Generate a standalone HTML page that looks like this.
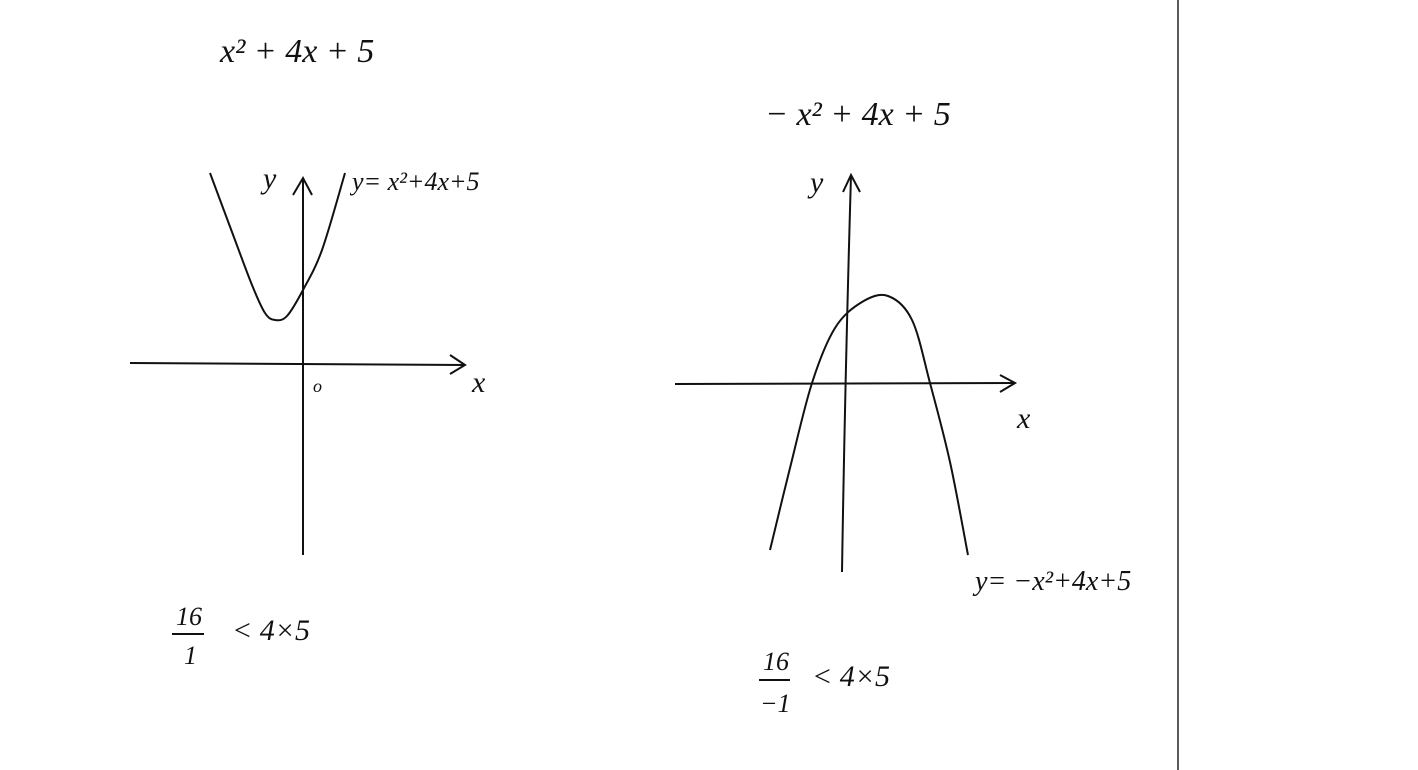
<!DOCTYPE html>
<html><head><meta charset="utf-8"><style>
html,body{margin:0;padding:0;background:#fff;}
svg{display:block;}
text{font-family:"Liberation Serif",serif;font-style:italic;fill:#111;}
</style></head><body>
<svg id="s" width="1418" height="770" viewBox="0 0 1418 770">
<line x1="1178" y1="0" x2="1178" y2="770" stroke="#222" stroke-width="1.5"/>
<g stroke="#111" stroke-width="2" fill="none">
<text x="220" y="62" font-size="34" stroke="none">x² + 4x + 5</text>
<line x1="303" y1="555" x2="303" y2="178"/>
<path d="M293,195 L303,178 L312,195"/>
<line x1="130" y1="363" x2="465" y2="365"/>
<path d="M450,355 L465,365 L450,374"/>
<text x="263" y="188" font-size="30" stroke="none">y</text>
<text x="472" y="392" font-size="30" stroke="none">x</text>
<text x="313" y="392" font-size="18" stroke="none">o</text>
<text x="352" y="190" font-size="26" stroke="none">y= x²+4x+5</text>
<path id="lc"/>
<text x="176" y="625" font-size="26" stroke="none">16</text>
<line x1="172" y1="634" x2="204" y2="634"/>
<text x="184" y="664" font-size="26" stroke="none">1</text>
<text x="232" y="640" font-size="30" stroke="none">&lt; 4×5</text>
</g>
<g stroke="#111" stroke-width="2" fill="none">
<text x="765" y="125" font-size="34" stroke="none">− x² + 4x + 5</text>
<path d="M842,572 Q845,380 851,175"/>
<path d="M843,192 L851,175 L860,192"/>
<line x1="675" y1="384" x2="1015" y2="383"/>
<path d="M1000,375 L1015,383 L1000,392"/>
<text x="810" y="192" font-size="30" stroke="none">y</text>
<text x="1017" y="428" font-size="30" stroke="none">x</text>
<text x="975" y="590" font-size="28" stroke="none">y= −x²+4x+5</text>
<path id="rc"/>
<text x="763" y="670" font-size="26" stroke="none">16</text>
<line x1="759" y1="680" x2="790" y2="680"/>
<text x="760" y="712" font-size="26" stroke="none">−1</text>
<text x="812" y="686" font-size="30" stroke="none">&lt; 4×5</text>
</g>
</svg>
<script>
const leftXs=[-9.3,-7.1,-5.1,-3.8,-2.8,-1.6,0,1.9,4.2];
const leftYs=[19,13.1,7.8,5,4.3,4.7,7.3,11.3,19];
const rightXs=[-7.7,-5.7,-3.5,-1.2,1.5,4.1,6.5,8.3,10.3,12.1];
const rightYs=[-16.7,-8.5,0,5.5,8.1,8.7,6.3,0,-7.9,-17.2];
function axis(ox,oy){return {x:v=>ox+v*10,y:v=>oy-v*10};}
function smooth(xs,ys,a){
  const p=xs.map((x,i)=>[a.x(x),a.y(ys[i])]);
  let d='M'+p[0][0]+','+p[0][1];
  for(let i=0;i<p.length-1;i++){
    const p0=p[i-1]||p[i],p1=p[i],p2=p[i+1],p3=p[i+2]||p2;
    const c1=[p1[0]+(p2[0]-p0[0])/6,p1[1]+(p2[1]-p0[1])/6];
    const c2=[p2[0]-(p3[0]-p1[0])/6,p2[1]-(p3[1]-p1[1])/6];
    d+=' C'+c1+' '+c2+' '+p2;
  }
  return d;
}
document.getElementById('lc').setAttribute('d',smooth(leftXs,leftYs,axis(303,363)));
document.getElementById('rc').setAttribute('d',smooth(rightXs,rightYs,axis(847,383)));
</script>
</body></html>
